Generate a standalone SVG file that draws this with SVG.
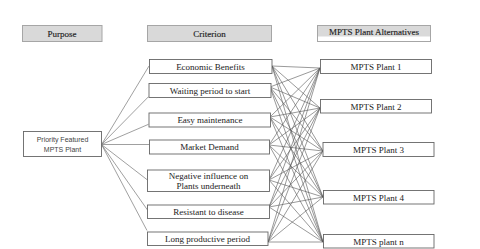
<svg xmlns="http://www.w3.org/2000/svg" width="480" height="249" viewBox="0 0 480 249">
<style>
.bg{fill:#ffffff}
.hdr{fill:#d9d9d9;stroke:#a6a6a6;stroke-width:1}
.box{fill:#ffffff;stroke:#666666;stroke-width:0.9}
.ht{font-family:"Liberation Serif","Times New Roman",serif;font-size:9px;fill:#222222;text-anchor:middle;stroke:#222222;stroke-width:0.15}
.t{font-family:"Liberation Serif","Times New Roman",serif;font-size:9px;fill:#222222;text-anchor:middle}
.s{font-family:"Liberation Sans",Arial,sans-serif;font-size:7px;fill:#444444;text-anchor:middle}
.c line{stroke:#555555;stroke-width:0.6}
.f line{stroke:#777777;stroke-width:0.7}
</style>
<rect class="bg" x="0" y="0" width="480" height="249"/>
<g id="header-purpose">
<rect class="hdr" x="22.5" y="25.5" width="79.5" height="16"/>
<text class="ht" x="62" y="36.5">Purpose</text>
</g>
<g id="header-criterion">
<rect class="hdr" x="147.5" y="25.5" width="124" height="16"/>
<text class="ht" x="209.5" y="36.5">Criterion</text>
</g>
<g id="header-alternatives">
<rect x="317.5" y="25.5" width="113" height="16" fill="#ffffff" stroke="#a6a6a6" stroke-width="1"/>
<rect x="318" y="26" width="112" height="10.5" fill="#d9d9d9"/>
<text class="ht" x="374" y="34.5">MPTS Plant Alternatives</text>
</g>
<g id="connectors">
<g class="f">
<line x1="101.5" y1="144.5" x2="149" y2="66"/>
<line x1="101.5" y1="144.5" x2="148.5" y2="96.7"/>
<line x1="101.5" y1="144.5" x2="148.5" y2="124.3"/>
<line x1="101.5" y1="144.5" x2="149" y2="144.5"/>
<line x1="101.5" y1="144.5" x2="147.5" y2="180"/>
<line x1="101.5" y1="144.5" x2="147.5" y2="210"/>
<line x1="101.5" y1="144.5" x2="147" y2="230.5"/>
</g>
<g class="c">
<line x1="272" y1="66" x2="320" y2="68"/>
<line x1="272" y1="66" x2="320" y2="108"/>
<line x1="272" y1="66" x2="323" y2="151"/>
<line x1="272" y1="66" x2="323" y2="197"/>
<line x1="272" y1="66" x2="323" y2="242"/>
<line x1="270" y1="87" x2="320" y2="68"/>
<line x1="270" y1="87" x2="320" y2="108"/>
<line x1="270" y1="87" x2="323" y2="151"/>
<line x1="270" y1="87" x2="323" y2="197"/>
<line x1="270" y1="87" x2="323" y2="242"/>
<line x1="270" y1="117" x2="320" y2="68"/>
<line x1="270" y1="117" x2="320" y2="108"/>
<line x1="270" y1="117" x2="323" y2="151"/>
<line x1="270" y1="117" x2="323" y2="197"/>
<line x1="270" y1="117" x2="323" y2="242"/>
<line x1="269" y1="145" x2="320" y2="68"/>
<line x1="269" y1="145" x2="320" y2="108"/>
<line x1="269" y1="145" x2="323" y2="151"/>
<line x1="269" y1="145" x2="323" y2="197"/>
<line x1="269" y1="145" x2="323" y2="242"/>
<line x1="269" y1="180" x2="320" y2="68"/>
<line x1="269" y1="180" x2="320" y2="108"/>
<line x1="269" y1="180" x2="323" y2="151"/>
<line x1="269" y1="180" x2="323" y2="197"/>
<line x1="269" y1="180" x2="323" y2="242"/>
<line x1="269" y1="207" x2="320" y2="68"/>
<line x1="269" y1="207" x2="320" y2="108"/>
<line x1="269" y1="207" x2="323" y2="151"/>
<line x1="269" y1="207" x2="323" y2="197"/>
<line x1="269" y1="207" x2="323" y2="242"/>
<line x1="268" y1="242" x2="320" y2="68"/>
<line x1="268" y1="242" x2="320" y2="108"/>
<line x1="268" y1="242" x2="323" y2="151"/>
<line x1="268" y1="242" x2="323" y2="197"/>
<line x1="268" y1="242" x2="323" y2="242"/>
</g>
</g>
<g id="purpose">
<rect class="box" x="23.5" y="131.5" width="78" height="25"/>
<text class="s" x="62.5" y="141.5">Priority Featured</text>
<text class="s" x="62.5" y="151.5">MPTS Plant</text>
</g>
<g id="economic-benefits">
<rect class="box" x="149.5" y="59.5" width="122.5" height="14"/>
<text class="t" x="210.5" y="69.5">Economic Benefits</text>
</g>
<g id="waiting-period">
<rect class="box" x="149" y="83.5" width="122" height="14"/>
<text class="t" x="210" y="93.5">Waiting period to start</text>
</g>
<g id="easy-maintenance">
<rect class="box" x="149" y="113" width="121.5" height="14"/>
<text class="t" x="210" y="123">Easy maintenance</text>
</g>
<g id="market-demand">
<rect class="box" x="149.5" y="140" width="120" height="14"/>
<text class="t" x="209.5" y="150">Market Demand</text>
</g>
<g id="negative-influence">
<rect class="box" x="147.5" y="170" width="122" height="21.5"/>
<text class="t" x="208.5" y="179">Negative influence on</text>
<text class="t" x="208.5" y="189">Plants underneath</text>
</g>
<g id="resistant">
<rect class="box" x="147.5" y="205" width="122" height="13.5"/>
<text class="t" x="208.5" y="215">Resistant to disease</text>
</g>
<g id="long-productive">
<rect class="box" x="147.5" y="232" width="120.5" height="13.5"/>
<text class="t" x="207.5" y="242">Long productive period</text>
</g>
<g id="plant-1">
<rect class="box" x="320.5" y="59.5" width="111" height="14"/>
<text class="t" x="376" y="69.5">MPTS Plant 1</text>
</g>
<g id="plant-2">
<rect class="box" x="320.5" y="99.5" width="111" height="13.5"/>
<text class="t" x="376" y="109.5">MPTS Plant 2</text>
</g>
<g id="plant-3">
<rect class="box" x="323" y="142.5" width="111" height="14"/>
<text class="t" x="378.5" y="152.5">MPTS Plant 3</text>
</g>
<g id="plant-4">
<rect class="box" x="323.5" y="190.5" width="110.5" height="13.5"/>
<text class="t" x="378.5" y="200.5">MPTS Plant 4</text>
</g>
<g id="plant-n">
<rect class="box" x="323.5" y="234.5" width="110.5" height="13.5"/>
<text class="t" x="378.5" y="244.5">MPTS plant n</text>
</g>
</svg>
